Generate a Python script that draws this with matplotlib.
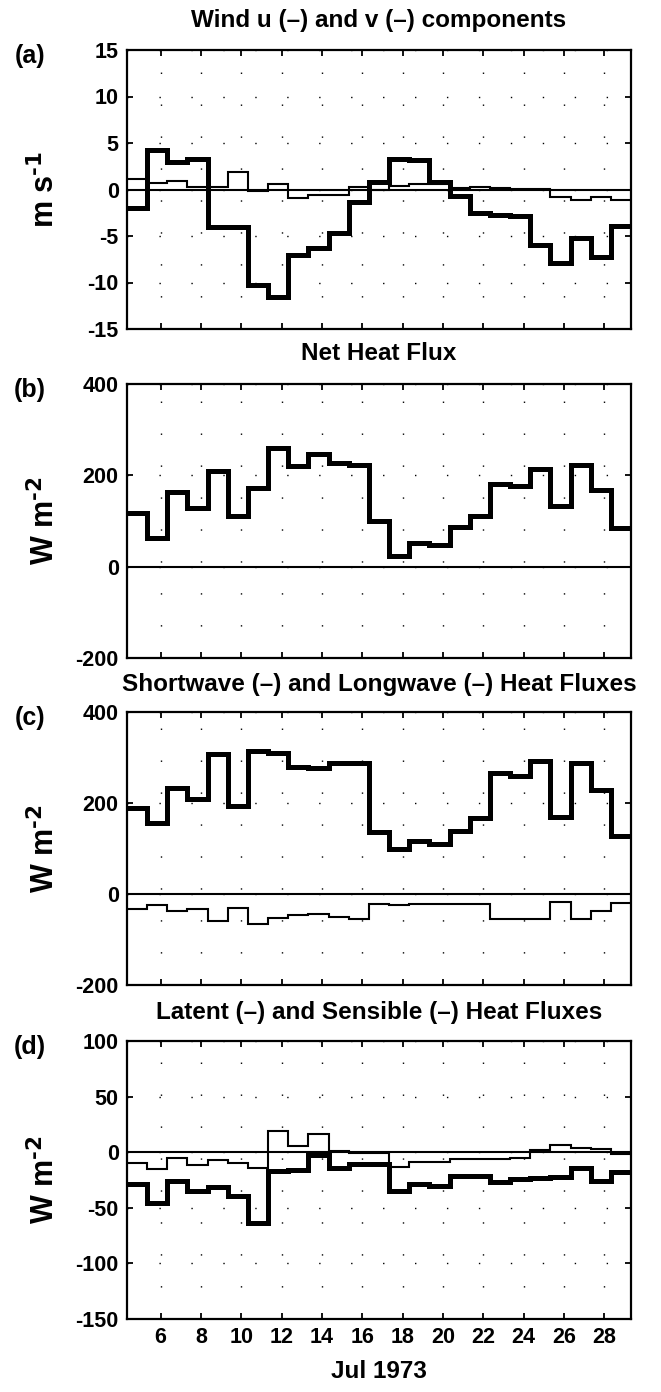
import matplotlib
matplotlib.use("Agg")
import matplotlib.pyplot as plt

plt.rcParams['font.family'] = ['Liberation Sans', 'DejaVu Sans']
plt.rcParams['axes.unicode_minus'] = False
plt.rcParams['mathtext.default'] = 'bf'
plt.rcParams['font.weight'] = 'bold'

# bin edges (day of July 1973), 25 daily bins
bin_edges = [4.33, 5.33, 6.33, 7.33, 8.33, 9.33, 10.33, 11.33, 12.33, 13.33,
             14.33, 15.33, 16.33, 17.33, 18.33, 19.33, 20.33, 21.33, 22.33,
             23.33, 24.33, 25.33, 26.33, 27.33, 28.33, 29.33]

# (a) wind components, m s-1
wind_u = [1.15, 0.7, 0.9, 0.3, 0.3, 1.9, -0.2, 0.6, -0.9, -0.55, -0.55, 0.25,
          0.0, 0.4, 0.6, 0.6, 0.2, 0.3, 0.2, 0.1, 0.1, -0.8, -1.1, -0.8, -1.1]
wind_v = [-2.0, 4.25, 3.0, 3.3, -4.05, -4.05, -10.3, -11.6, -7.0, -6.3, -4.65,
          -1.3, 0.8, 3.25, 3.15, 0.8, -0.65, -2.5, -2.7, -2.9, -6.0, -7.9,
          -5.25, -7.3, -3.95]

# (b) net heat flux, W m-2
net_flux = [117, 63, 163, 128, 210, 110, 172, 260, 220, 247, 226, 222, 100, 24,
            52, 47, 87, 110, 180, 177, 214, 132, 222, 167, 85]

# (c) shortwave and longwave, W m-2
shortwave = [189, 155, 232, 209, 307, 193, 314, 309, 280, 278, 289, 289, 136,
             99, 116, 109, 138, 166, 267, 260, 293, 169, 289, 229, 128]
longwave = [-33, -25, -38, -34, -60, -30, -65, -52, -47, -44, -51, -56, -21,
            -25, -23, -22, -22, -23, -54, -54, -54, -17, -56, -38, -20]

# (d) latent and sensible, W m-2
latent = [-28.5, -46, -26, -34.5, -31.5, -39.5, -63.5, -16.5, -16, -2.5, -14,
          -11, -11, -35, -29, -30, -21.6, -21.6, -27, -24, -23.5, -22, -14.5,
          -25.5, -18]
sensible = [-10, -15.5, -5.5, -11.5, -7, -10, -14.5, 19.5, 6, 16, 1.5, -0.6,
            -1, -13, -9, -8.5, -6, -6, -6.5, -5, 1.8, 6.5, 4, 2.5, -1.5]

titles = ["Wind u (–) and v (–) components", "Net Heat Flux",
          "Shortwave (–) and Longwave (–) Heat Fluxes",
          "Latent (–) and Sensible (–) Heat Fluxes"]
panel_labels = ["(a)", "(b)", "(c)", "(d)"]
ylabels = [r"m s$^{\text{-1}}$", r"W m$^{\text{-2}}$", r"W m$^{\text{-2}}$",
           r"W m$^{\text{-2}}$"]
ylims = [(-15, 15), (-200, 400), (-200, 400), (-150, 100)]
yticks = [[-15, -10, -5, 0, 5, 10, 15], [-200, 0, 200, 400],
          [-200, 0, 200, 400], [-150, -100, -50, 0, 50, 100]]
xticks = [6, 8, 10, 12, 14, 16, 18, 20, 22, 24, 26, 28]
xlabel = "Jul 1973"

W, H = 661, 1392
fig = plt.figure(figsize=(W / 100, H / 100), dpi=100)

left_px, right_px = 127, 631
panels_px = [(50, 329), (384, 658), (712, 985), (1041, 1319)]
title_y_px = [20, 354, 684, 1013]

thick = 3.6
thin = 1.5
series = [[(wind_u, thin), (wind_v, thick)],
          [(net_flux, thick)],
          [(shortwave, thick), (longwave, thin)],
          [(latent, thick), (sensible, thin)]]

xc = (left_px + right_px) / 2 / W
for i, (top, bot) in enumerate(panels_px):
    ax = fig.add_axes([left_px / W, 1 - bot / H, (right_px - left_px) / W,
                       (bot - top) / H])
    ax.set_xlim(bin_edges[0], bin_edges[-1])
    ax.set_ylim(*ylims[i])
    ax.set_yticks(yticks[i])
    ax.set_xticks(xticks)
    ax.grid(True, color='black', linestyle=(0, (1, 22)), linewidth=1.0)
    ax.axhline(0, color='black', linewidth=1.5, zorder=2)
    for vals, lw in series[i]:
        ax.stairs(vals, bin_edges, color='black', linewidth=lw,
                  baseline=None, zorder=3)
    ax.tick_params(direction='in', length=4, width=1.3, top=True, right=True,
                   labelsize=15.5, pad=6)
    for lab in ax.get_xticklabels() + ax.get_yticklabels():
        lab.set_fontweight('bold')
    if i < 3:
        ax.tick_params(labelbottom=False)
    for s in ax.spines.values():
        s.set_linewidth(1.6)
    fig.text(xc, 1 - title_y_px[i] / H, titles[i], ha='center', va='center',
             fontsize=17.5, fontweight='bold')
    fig.text(30 / W, 1 - (top + 6) / H, panel_labels[i], ha='center',
             va='center', fontsize=18, fontweight='bold')
    fig.text(45 / W, 1 - (top + bot) / 2 / H, ylabels[i], ha='center',
             va='center', rotation=90, fontsize=22, fontweight='bold')

fig.text(xc, 1 - 1372 / H, xlabel, ha='center', va='center', fontsize=17.5,
         fontweight='bold')

fig.savefig("out.png", dpi=100)
